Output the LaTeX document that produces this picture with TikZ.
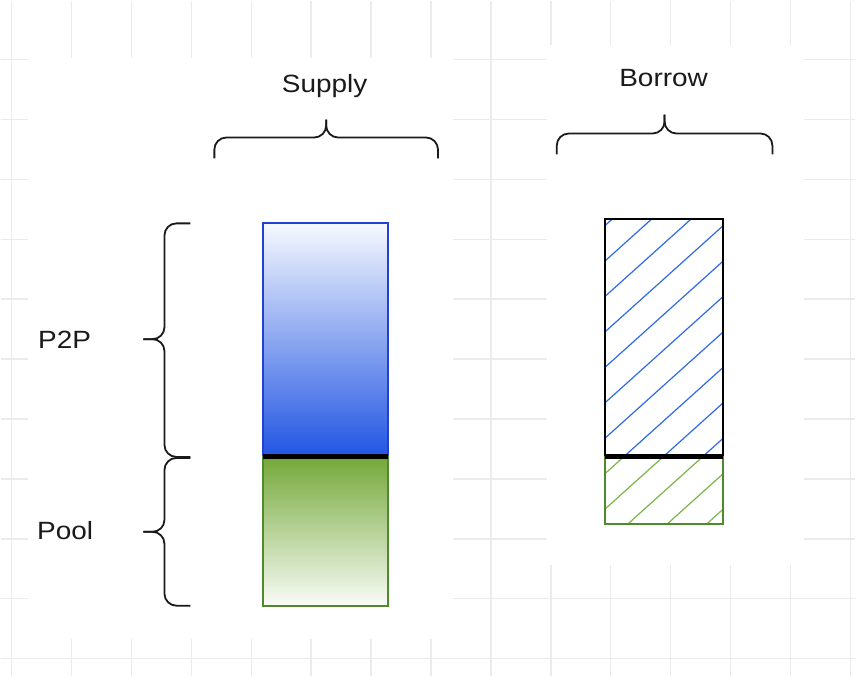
\documentclass[tikz,border=0pt]{standalone}
\usepackage{fontspec}
\setmainfont{Liberation Sans}[FakeStretch=1.12]
\usepackage{tikz}
\usetikzlibrary{positioning}
\usepackage{xcolor}
\definecolor{gridgray}{HTML}{EBEBEB}
\definecolor{supplyblue}{HTML}{2155E3}
\definecolor{borderblue}{HTML}{2440D2}
\definecolor{supplygreen}{HTML}{74A839}
\definecolor{bordergreen}{HTML}{4F8A2B}
\definecolor{hatchblue}{HTML}{2F6BE8}
\definecolor{hatchgreen}{HTML}{7AB648}
\definecolor{textblack}{HTML}{1A1A1A}

\begin{document}
\begin{tikzpicture}[x=1pt, y=1pt,
    gridline/.style={gridgray, line width=1.5pt},
    bar/.style={inner sep=0pt, outer sep=0pt},
    barline/.style={line width=2pt},
    hatch/.style={line width=1.2pt},
    separator/.style={line width=5pt, black},
    bracket/.style={line width=1.8pt, textblack, rounded corners=12pt},
    titletext/.style={font=\fontsize{25}{30}\selectfont, text=textblack, inner sep=0pt}]
    % Background grid
    \fill[white] (0,0) rectangle (856,676);
    \foreach \gx in {11,71,...,851} \draw[gridline] (\gx,0) -- (\gx,676);
    \foreach \gy in {17,77,...,617} \draw[gridline] (0,\gy) -- (856,\gy);
    
    % White panels
    \fill[white] (27,37) rectangle (453,618.5);
    \fill[white] (547,111) rectangle (805,632);
    
    % Supply bar
    \node[bar, top color=white!96!supplyblue, bottom color=supplyblue,
        minimum width=125pt, minimum height=234pt, anchor=south west] (p2psupply) at (263,219) {};
    \node[bar, top color=supplygreen, bottom color=white!96!supplygreen,
        minimum width=125pt, minimum height=149pt, below=0pt of p2psupply] (poolsupply) {};
    \draw[barline, borderblue] (p2psupply.south west) rectangle (p2psupply.north east);
    \draw[barline, bordergreen] (poolsupply.south west) rectangle (poolsupply.north east);
    
    % Borrow bar
    \node[bar, minimum width=119pt, minimum height=238pt, anchor=south west] (p2pborrow) at (605,219) {};
    \node[bar, minimum width=119pt, minimum height=67pt, below=0pt of p2pborrow] (poolborrow) {};
    \begin{scope}
        \clip (p2pborrow.south west) rectangle (p2pborrow.north east);
        \foreach \k in {-1,...,10} \draw[hatch, hatchblue] (605,415-35.5*\k) -- ++(119,107);
    \end{scope}
    \begin{scope}
        \clip (poolborrow.south west) rectangle (poolborrow.north east);
        \foreach \k in {-1,...,10} \draw[hatch, hatchgreen] (605,415-35.5*\k) -- ++(119,107);
    \end{scope}
    \draw[barline, black] (p2pborrow.south west) rectangle (p2pborrow.north east);
    \draw[barline, bordergreen] (poolborrow.south west) rectangle (poolborrow.north east);
    
    % Split lines
    \draw[separator] (p2psupply.south west) -- (p2psupply.south east);
    \draw[separator] (p2pborrow.south west) -- (p2pborrow.south east);
    
    % Braces
    \draw[bracket] (214,518) -- (214,539) -- (326,539) -- (326,557);
    \draw[bracket] (438,518) -- (438,539) -- (326,539) -- (326,557);
    \draw[bracket] (557,522) -- (557,543) -- (665,543) -- (665,562);
    \draw[bracket] (773,522) -- (773,543) -- (665,543) -- (665,562);
    \draw[bracket] (190,453) -- (164,453) -- (164,337) -- (143,337);
    \draw[bracket] (190,219) -- (164,219) -- (164,337) -- (143,337);
    \draw[bracket] (190,218) -- (164,218) -- (164,144) -- (143,144);
    \draw[bracket] (190,70) -- (164,70) -- (164,144) -- (143,144);
    
    % Labels
    \node[titletext, anchor=base] (supply) at (324.5,584) {Supply};
    \node[titletext, anchor=base] (borrow) at (664,590) {Borrow};
    \node[titletext, anchor=base] (p2p) at (64,328) {P2P};
    \node[titletext, anchor=base] (pool) at (64.5,136) {Pool};
    
\end{tikzpicture}
\end{document}
